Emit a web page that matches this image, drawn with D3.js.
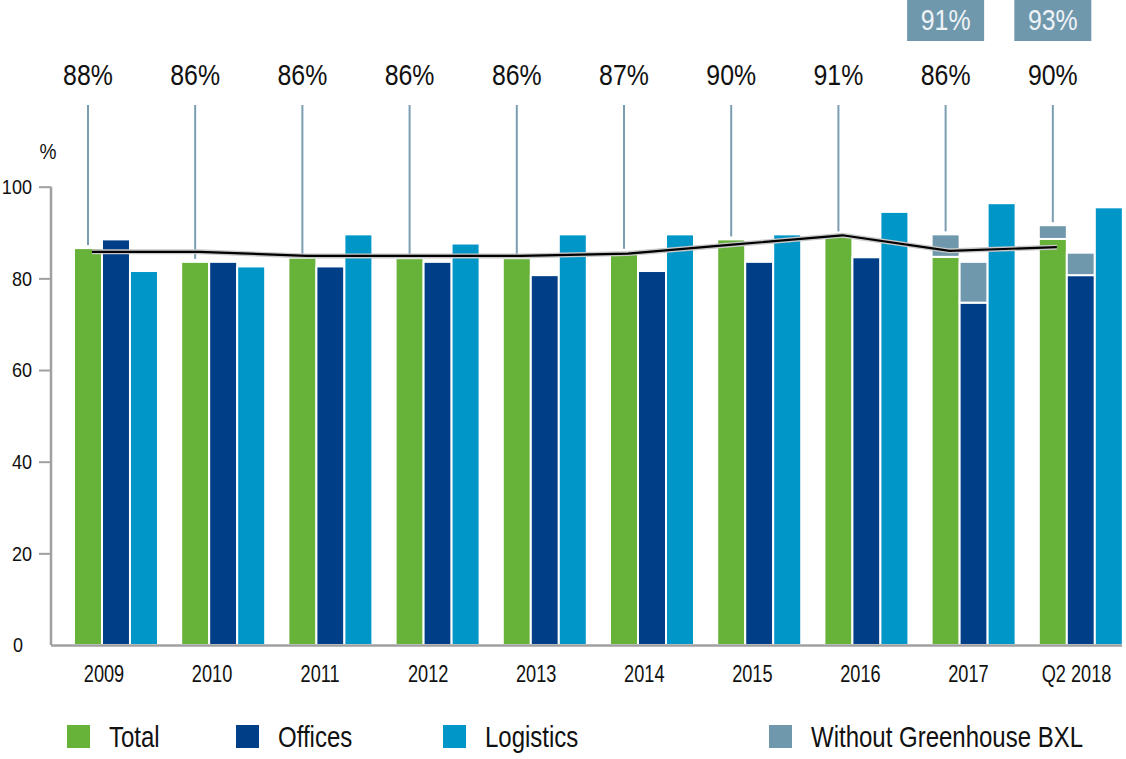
<!DOCTYPE html>
<html lang="en">
<head>
<meta charset="utf-8">
<title>Occupancy rate</title>
<script src="https://cdn.jsdelivr.net/npm/d3@7"></script>
<style>
  body { margin: 0; background: #fff; }
  text { font-family: "Liberation Sans", Arial, sans-serif; fill: #111; }
</style>
</head>
<body>
<div id="chart"></div>
<script>
var categories = ["2009", "2010", "2011", "2012", "2013", "2014", "2015", "2016", "2017", "Q2 2018"];
var total      = [86.6, 83.6, 84.5, 84.4, 84.4, 85.8, 88.5, 89.6, 84.7, 88.6];
var offices    = [88.5, 83.6, 82.6, 83.6, 80.7, 81.6, 83.6, 84.6, 74.7, 80.7];
var logistics  = [81.6, 82.6, 89.6, 87.6, 89.6, 89.6, 89.6, 94.5, 96.4, 95.5];
// "without Greenhouse BXL" tops, only for last two periods
var withoutTotal   = [null, null, null, null, null, null, null, null, 89.6, 91.6];
var withoutOffices = [null, null, null, null, null, null, null, null, 83.6, 85.6];
var lineValues = [85.8, 85.8, 84.9, 84.9, 84.9, 85.4, 87.4, 89.4, 86.0, 86.8];
var topLabels = ["88%", "86%", "86%", "86%", "86%", "87%", "90%", "91%", "86%", "90%"];
var boxLabels = [null, null, null, null, null, null, null, null, "91%", "93%"];
var yTicks = [0, 20, 40, 60, 80, 100];
var legendItems = ["Total", "Offices", "Logistics", "Without Greenhouse BXL"];

var w = 1126, h = 759;
var colors = {total: "#67b33a", offices: "#003f87", logistics: "#0096c8", without: "#7098ad"};

var svg = d3.select("#chart").append("svg")
  .attr("width", w).attr("height", h);

// no condensed font installed, so squeeze text horizontally
function condense(sel, sx) {
  sel.each(function() {
    var t = d3.select(this);
    var x = +t.attr("x") || 0, yy = +t.attr("y") || 0;
    t.attr("x", 0).attr("y", 0)
      .attr("transform", "translate(" + x + "," + yy + ") scale(" + sx + ",1)");
  });
}

var y = d3.scaleLinear().domain([0, 100]).range([645, 186.7]);

var x0 = d3.scaleBand().domain(categories)
  .range([52, 1144.8]).paddingInner(0.2164).paddingOuter(0.205);
var x1 = d3.scaleBand().domain(["total", "offices", "logistics"])
  .range([0, x0.bandwidth()]);
var xLabel = d3.scalePoint().domain(categories).range([103.5, 1076]);

var data = categories.map(function(c, i) {
  return {cat: c, total: total[i], offices: offices[i], logistics: logistics[i],
    wTotal: withoutTotal[i], wOffices: withoutOffices[i], line: lineValues[i],
    top: topLabels[i], box: boxLabels[i]};
});

// y axis
var yAxis = svg.append("g").attr("transform", "translate(51,0)")
  .call(d3.axisLeft(y).tickValues(yTicks).tickSize(12).tickPadding(7));
yAxis.select(".domain").attr("stroke", "#a0a0a0").attr("stroke-width", 2.5)
  .attr("d", "M0," + y(100) + "V" + y(0));
yAxis.selectAll(".tick line").attr("stroke", "#a0a0a0").attr("stroke-width", 2);
yAxis.selectAll(".tick text").style("font-size", "21px").attr("fill", "#111");
yAxis.selectAll(".tick").filter(function(d) { return d === 0; })
  .call(function(t) { t.select("line").remove(); t.select("text").attr("x", -28); });
condense(yAxis.selectAll(".tick text"), 0.86);

var pct = svg.append("text").attr("x", 48).attr("y", 159).attr("text-anchor", "middle")
  .style("font-size", "22px").text("%");
condense(pct, 0.87);

// bars
var groups = svg.selectAll(".grp").data(data).enter().append("g")
  .attr("class", "grp")
  .attr("transform", function(d) { return "translate(" + x0(d.cat) + ",0)"; });

function bar(g, key, y0v, y1v, fill) {
  g.append("rect")
    .attr("x", x1(key)).attr("width", x1.bandwidth())
    .attr("y", y(y1v)).attr("height", y(y0v) - y(y1v))
    .attr("fill", fill).attr("stroke", "#fff").attr("stroke-width", 2);
}
groups.each(function(d) {
  var g = d3.select(this);
  bar(g, "total", 0, d.total, colors.total);
  if (d.wTotal) bar(g, "total", d.total, d.wTotal, colors.without);
  bar(g, "offices", 0, d.offices, colors.offices);
  if (d.wOffices) bar(g, "offices", d.offices, d.wOffices, colors.without);
  bar(g, "logistics", 0, d.logistics, colors.logistics);
});

// x axis line
svg.append("line").attr("x1", 51).attr("x2", 1122).attr("y1", 645.5).attr("y2", 645.5)
  .attr("stroke", "#a0a0a0").attr("stroke-width", 2.5);

var xAxis = svg.append("g").attr("transform", "translate(0,645)")
  .call(d3.axisBottom(xLabel).tickSize(0).tickPadding(21));
xAxis.select(".domain").remove();
xAxis.selectAll("text").style("font-size", "23px").attr("fill", "#111");
condense(xAxis.selectAll("text"), 0.79);

// leader lines and labels
function greenCenter(d) { return x0(d.cat) + x1("total") + x1.bandwidth() / 2; }
svg.selectAll(".leader").data(data).enter().append("line")
  .attr("x1", greenCenter).attr("x2", greenCenter)
  .attr("y1", 105)
  .attr("y2", function(d) { return y(d.wTotal || d.total) - 3; })
  .attr("stroke", "#7a9db2").attr("stroke-width", 2);

var tops = svg.selectAll(".toplab").data(data).enter().append("text")
  .attr("x", greenCenter).attr("y", 85).attr("text-anchor", "middle")
  .style("font-size", "30px").text(function(d) { return d.top; });
condense(tops, 0.83);

var boxes = svg.selectAll(".box").data(data.filter(function(d) { return d.box; }))
  .enter().append("g");
boxes.append("rect")
  .attr("x", function(d) { return greenCenter(d) - 38.5; }).attr("y", 0)
  .attr("width", 77).attr("height", 41).attr("fill", colors.without);
var boxText = boxes.append("text")
  .attr("x", greenCenter).attr("y", 30).attr("text-anchor", "middle")
  .style("font-size", "30px").style("fill", "#eef3f6").text(function(d) { return d.box; });
condense(boxText, 0.83);

// total line
var line = d3.line()
  .x(function(d) { return x0(d.cat) + 18; })
  .y(function(d) { return y(d.line); });
svg.append("path").datum(data).attr("d", line)
  .attr("fill", "none").attr("stroke", "#c8c8c8").attr("stroke-width", 5);
svg.append("path").datum(data).attr("d", line)
  .attr("fill", "none").attr("stroke", "#000").attr("stroke-width", 2.2);

// legend
var legendX = [67, 236, 443, 769];
var legendCol = [colors.total, colors.offices, colors.logistics, colors.without];
var legend = svg.selectAll(".leg").data(legendItems).enter().append("g")
  .attr("transform", function(d, i) { return "translate(" + legendX[i] + ",725)"; });
legend.append("rect").attr("width", 23).attr("height", 23)
  .attr("fill", function(d, i) { return legendCol[i]; });
var legText = legend.append("text").attr("x", 42).attr("y", 22)
  .style("font-size", "30px").text(function(d) { return d; });
condense(legText, 0.8);
</script>
</body>
</html>
